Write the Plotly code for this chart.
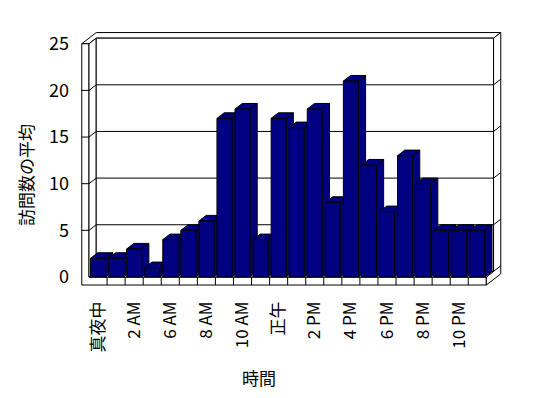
import plotly.graph_objects as go

# ---- data ----
categories = ["真夜中", "1 AM", "2 AM", "5 AM", "6 AM", "7 AM", "8 AM", "9 AM",
              "10 AM", "11 AM", "正午", "1 PM", "2 PM", "3 PM", "4 PM", "5 PM",
              "6 PM", "7 PM", "8 PM", "9 PM", "10 PM", "11 PM"]
visits = [2, 2, 3, 1, 4, 5, 6, 17, 18, 4, 17, 16, 18, 8, 21, 12, 7, 13, 10, 5, 5, 5]
y_ticks = [0, 5, 10, 15, 20, 25]
x_title = "時間"
y_title = "訪問数の平均"

# ---- geometry (window px; the page body has an 8px margin) ----
PAGE_M = 8
W, H = 548 - PAGE_M, 398 - PAGE_M
PL, PR, PT, PB = 78 - PAGE_M, 503 - PAGE_M, 30 - PAGE_M, 288 - PAGE_M
X_PPU, Y_PPU = 18.06, 9.33
X_FRONT_PX, Y_ZERO_PX = 89 - PAGE_M, 277 - PAGE_M
x_range = [-0.5 - (X_FRONT_PX - PL) / X_PPU, -0.5 + (PR - X_FRONT_PX) / X_PPU]
y_range = [-(PB - Y_ZERO_PX) / Y_PPU, (Y_ZERO_PX - PT) / Y_PPU]

DX, DY = 0.40, 0.60      # oblique depth offset (data units)
WX, FT = 0.40, 0.86      # left wall thickness, floor thickness
BW = 0.83                # bar width
NAVY = "#000080"
FONT = "Noto Sans CJK JP"

n = len(categories)
x_lo, x_hi = -0.5, n - 0.5
y_top = max(y_ticks)


def path(pts, close=True):
    s = "M " + " L ".join(f"{x:.4f},{y:.4f}" for x, y in pts)
    return s + (" Z" if close else "")


shapes = []


def poly(pts, layer="below", fill="white", close=True):
    d = dict(type="path", path=path(pts, close), xref="x", yref="y",
             line=dict(color="black", width=1), layer=layer)
    if close:
        d["fillcolor"] = fill
    shapes.append(d)


# frame: walls and floor
poly([(x_lo - WX, y_top), (x_lo, y_top), (x_lo + DX, y_top + DY), (x_hi + DX, y_top + DY),
      (x_hi + 2 * DX, y_top + 2 * DY), (x_lo - WX + 2 * DX, y_top + 2 * DY)])
poly([(x_lo - WX, -FT), (x_hi, -FT), (x_hi, 0), (x_lo, 0), (x_lo, y_top), (x_lo - WX, y_top)])
poly([(x_lo, 0), (x_lo + DX, DY), (x_lo + DX, y_top + DY), (x_lo, y_top)])
poly([(x_hi, -FT), (x_hi, 0), (x_hi + DX, DY), (x_hi + DX, y_top + DY),
      (x_hi + 2 * DX, y_top + 2 * DY), (x_hi + 2 * DX, -FT + 2 * DY)])
poly([(x_lo + DX, DY), (x_hi + DX, DY), (x_hi + DX, y_top + DY), (x_lo + DX, y_top + DY)])
poly([(x_lo, 0), (x_hi, 0), (x_hi + DX, DY), (x_lo + DX, DY)])

# gridlines wrapping the walls
for v in y_ticks:
    if v >= y_top:
        continue
    if v > 0:
        poly([(x_lo - WX, v), (x_lo, v)], close=False)
    poly([(x_lo, v), (x_lo + DX, v + DY), (x_hi + DX, v + DY), (x_hi + 2 * DX, v + 2 * DY)],
         close=False)

# category tick marks on the floor front
for i in range(n - 1):
    poly([(i + 0.5, -FT), (i + 0.5, 0)], close=False)

# bar side and top faces (left to right for correct occlusion)
for i, v in enumerate(visits):
    r, l = i + BW / 2, i - BW / 2
    poly([(r, 0), (r, v), (r + DX, v + DY), (r + DX, DY)], layer="between", fill=NAVY)
    poly([(l, v), (r, v), (r + DX, v + DY), (l + DX, v + DY)], layer="between", fill=NAVY)

fig = go.Figure(go.Bar(
    x=list(range(n)), y=visits, width=BW,
    marker=dict(color=NAVY, line=dict(color="black", width=1)),
    hovertemplate="%{customdata}: %{y}<extra></extra>",
    customdata=categories,
))


def paper_x(px):
    return (px - PAGE_M - PL) / (PR - PL)


def paper_y(py):
    return (PB - (py - PAGE_M)) / (PB - PT)


fig.update_layout(
    width=W, height=H,
    margin=dict(l=PL, r=W - PR, t=PT, b=H - PB, autoexpand=False),
    paper_bgcolor="white", plot_bgcolor="white",
    showlegend=False,
    font=dict(family=FONT, size=17, color="black"),
    shapes=shapes,
    xaxis=dict(range=x_range, tickvals=list(range(0, n, 2)), ticktext=categories[::2],
               tickangle=-90, showgrid=False, zeroline=False, showline=False, ticks="",
               ticklabelstandoff=9, tickfont=dict(size=17), automargin=False, fixedrange=True),
    yaxis=dict(range=y_range, tickvals=y_ticks, showgrid=False, zeroline=False,
               showline=False, ticks="", ticklabelstandoff=8, tickfont=dict(size=18),
               automargin=False, fixedrange=True),
    annotations=[
        dict(text=x_title, xref="paper", yref="paper", x=paper_x(259), y=paper_y(377),
             xanchor="center", yanchor="middle", showarrow=False, font=dict(size=17)),
        dict(text=y_title, xref="paper", yref="paper", x=paper_x(25), y=paper_y(175),
             xanchor="center", yanchor="middle", showarrow=False, textangle=-90,
             font=dict(size=17)),
    ],
)

fig.write_html("out.html")
